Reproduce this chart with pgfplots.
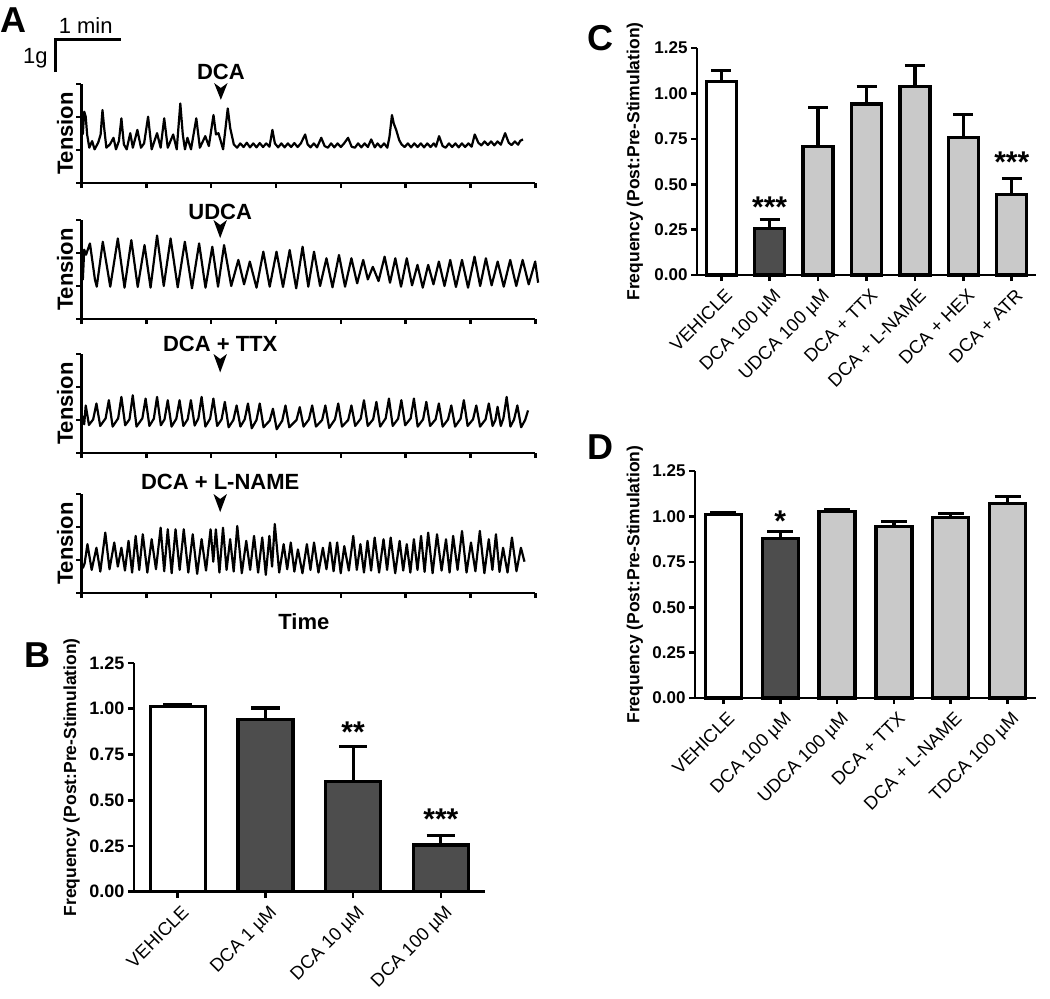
\documentclass[border=0pt]{standalone}
\usepackage{fontspec}
\setmainfont{Liberation Sans}
\usepackage{pgfplots}
\pgfplotsset{compat=1.18}

\definecolor{barDark}{HTML}{4D4D4D}
\definecolor{barLight}{HTML}{C9C9C9}
\newcommand{\fs}[1]{\fontsize{#1pt}{#1pt}\selectfont}

\tikzset{starlbl/.style={font=\fs{30}\bfseries, anchor=north, inner sep=0pt}}

\pgfplotsset{
  trace/.style={
    scale only axis, width=454pt, height=99pt,
    axis lines=left, axis line style={-, line width=2.6pt},
    xmin=0, xmax=420, ymin=0, ymax=3,
    xtick={0,60,...,420}, ytick={0,1,2,3},
    xticklabels={}, yticklabels={},
    tick align=outside, major tick length=5pt,
    every tick/.style={black, line width=2.6pt},
    clip=false,
    ylabel={\fs{22}\bfseries Tension},
    ylabel style={at={(axis description cs:-0.018,0.5)}, anchor=south, inner sep=0pt},
  },
  tr/.style={black, line width=2.2pt, no marks, line join=round},
  bars/.style={
    scale only axis, anchor=south west,
    axis lines=left, axis line style={-, line width=2.6pt},
    ymin=0, ymax=1.25, ytick={0,0.25,0.5,0.75,1,1.25},
    tick align=outside, major tick length=6pt,
    every tick/.style={black, line width=2.6pt},
    ybar, clip=false,
    /pgf/number format/fixed, /pgf/number format/fixed zerofill,
    /pgf/number format/precision=2, /pgf/number format/assume math mode=true,
    yticklabel style={font=\fs{17}\bfseries},
    xticklabel style={font=\fs{18.4}, xshift=3pt, yshift=-5pt, rotate=45, anchor=north east, inner sep=1pt},
    ylabel={\fs{17.5}\bfseries Frequency (Post:Pre-Stimulation)},
    ylabel style={anchor=south, inner sep=0pt},
  },
  barw/.style={draw=black, line width=3.2pt, bar shift=0pt},
  errs/.style={error bars/.cd, y dir=plus, y explicit,
    error bar style={line width=3.2pt, black},
    error mark options={rotate=90, mark size=#1, line width=3.2pt, black}},
}

\begin{document}
\begin{tikzpicture}[x=1pt,y=1pt]
\path[use as bounding box] (0,0) rectangle (1050,-999);

% ---------- panel A: traces ----------
\begin{axis}[trace, at={(81.4pt,-183pt)}, anchor=south west]
\addplot[tr] coordinates {
(1.3,1.47) (2.6,2.16) (4.0,2.01) (5.3,1.47) (7.3,1.07) (9.9,1.27) (12.2,1.02) (15.5,1.22)
(17.8,1.47) (19.5,2.21) (21.1,1.66) (23.1,1.07) (26.4,1.17) (29.7,1.37) (32.0,1.02) (34.7,1.27)
(37.0,1.96) (39.3,1.17) (41.9,1.02) (45.2,1.51) (47.6,1.07) (51.8,1.61) (55.1,1.07) (58,1.2)
(61.7,2.01) (65.0,1.02) (70.0,1.51) (73.3,1.07) (76.6,1.96) (79.9,1.07) (84.9,1.47) (88.2,1.02)
(91.5,2.41) (93.8,1.47) (95.8,1.02) (98.1,1.37) (101.4,1.02) (106.3,1.96) (109.6,1.07) (114.6,1.42)
(117.9,1.12) (122.2,2.06) (124.5,1.47) (126.8,1.51) (131.1,1.02) (135.4,2.26) (137.7,1.66) (141.0,1.17)
(144,1.07) (147,1.2) (150,1.09) (153,1.22) (156,1.08) (159,1.2) (162,1.08) (165,1.21) (168,1.09)
(171,1.2) (174,1.1) (176.7,1.61) (179,1.2) (182,1.08) (185,1.2) (188,1.08) (191,1.2) (194,1.09)
(197,1.21) (200,1.09) (203,1.2) (207,1.47) (209.3,1.17) (212,1.08) (215,1.2) (218,1.08) (221.9,1.37)
(225,1.12) (228,1.07) (231,1.2) (234,1.08) (237,1.2) (240,1.09) (243,1.2) (246.7,1.37) (250,1.1)
(253,1.07) (256,1.2) (259,1.08) (262,1.2) (265,1.09) (268.1,1.32) (271.4,1.08) (274,1.2) (277,1.08)
(280,1.2) (283,1.07) (285,1.4) (287.3,2.06) (289,1.8) (291.2,1.61) (294,1.3) (296.2,1.17) (299,1.09)
(302,1.2) (305,1.08) (308,1.2) (311,1.09) (314,1.2) (317,1.08) (320,1.2) (323,1.09) (326,1.2)
(328,1.1) (330.9,1.42) (334.2,1.12) (337,1.07) (340,1.2) (343,1.09) (346,1.2) (349,1.08) (352,1.2)
(355,1.09) (358,1.2) (361,1.1) (363.9,1.47) (367.2,1.22) (370,1.14) (373,1.26) (376,1.15) (379,1.26)
(382,1.14) (385,1.26) (388,1.16) (392,1.51) (395.3,1.22) (398,1.15) (401,1.26) (404,1.16) (406,1.28)
(408.5,1.32)
};
\node[font=\fs{22}\bfseries] at (axis cs:129,3.36) {DCA};
\fill (axis cs:122.8,3.03) -- (axis cs:129,2.52) -- (axis cs:135.2,3.03) -- (axis cs:129,2.88) -- cycle;
\draw[line width=3pt] (axis cs:-23.8,3.36) -- (axis cs:-23.8,4.36) -- (axis cs:36.6,4.36);
\node[font=\fs{22}] at (axis cs:4,4.77) {1 min};
\node[font=\fs{22}] at (axis cs:-42.6,3.79) {1g};
\end{axis}

\begin{axis}[trace, at={(81.4pt,-319pt)}, anchor=south west]
\addplot[tr] coordinates {
(1.3,1.18) (2.6,2.10) (4.3,1.95) (7.9,2.29) (12.5,1.20) (14.2,0.98) (19.8,2.34) (26.7,0.98)
(33.7,2.44) (39.9,0.95) (46.2,2.39) (52.1,0.97) (58.4,2.24) (64.0,0.95) (70.0,2.53) (76.2,1.00)
(82.5,2.44) (89.1,0.96) (95.7,2.34) (102.3,0.93) (108.9,2.29) (114.8,0.95) (121.1,2.19) (126.4,0.98)
(132.0,2.24) (138.6,1.00) (145.2,1.79) (150.5,1.05) (155.8,1.74) (162.0,0.95) (168.3,2.04) (174.2,0.98)
(180.5,2.04) (186.5,0.97) (192.7,2.09) (198.7,0.93) (204.6,2.19) (209.9,0.98) (215.2,2.04) (220.8,1.00)
(226.7,1.84) (232.3,0.96) (238.3,1.94) (243.9,0.98) (249.8,1.84) (255.1,1.08) (260.7,1.79) (265.0,1.20)
(269.6,1.58) (274.9,1.15) (280.5,1.89) (285.5,1.10) (290.4,1.84) (295.7,0.98) (301.0,1.84) (305.9,1.02)
(310.9,1.64) (315.8,0.95) (320.8,1.64) (325.7,1.05) (330.7,1.74) (335.9,1.00) (341.2,1.79) (346.5,0.97)
(352.1,1.79) (357.7,0.95) (363.7,1.89) (368.9,1.00) (374.2,1.84) (379.5,1.02) (385.1,1.74) (390.7,0.98)
(396.7,1.79) (402.3,1.00) (408.2,1.79) (413.8,1.05) (419.8,1.74) (422.5,1.10)
};
\node[font=\fs{22}\bfseries] at (axis cs:128.4,3.24) {UDCA};
\fill (axis cs:122.2,3.0) -- (axis cs:128.4,2.45) -- (axis cs:134.6,3.0) -- (axis cs:128.4,2.85) -- cycle;
\end{axis}

\begin{axis}[trace, at={(81.4pt,-453pt)}, anchor=south west]
\addplot[tr] coordinates {
(1.3,1.13) (2.6,0.87) (4.0,1.44) (7.0,0.85) (10.9,1.02) (13.9,1.50) (17.4,0.82) (22.4,1.05)
(25.4,1.60) (28.9,0.80) (34.0,1.05) (37.0,1.70) (40.5,0.84) (44.5,1.02) (47.5,1.75) (51.0,0.80)
(56.4,1.05) (59.4,1.65) (62.9,0.82) (67.0,1.04) (70.0,1.70) (73.5,0.84) (76.9,1.02) (79.9,1.60)
(83.4,0.80) (87.8,1.04) (90.8,1.60) (94.3,0.82) (98.3,1.02) (101.3,1.60) (104.8,0.83) (108.2,1.05)
(111.2,1.70) (114.7,0.80) (119.1,1.04) (122.1,1.65) (125.6,0.82) (129.7,1.02) (132.7,1.55) (136.2,0.78)
(140.6,1.00) (143.6,1.44) (147.1,0.80) (151.1,1.02) (154.1,1.50) (157.6,0.75) (162.0,1.00) (165.0,1.50)
(168.5,0.78) (174.2,0.98) (177.2,1.34) (180.7,0.72) (185.8,0.98) (188.8,1.44) (192.3,0.78) (199.0,1.00)
(202.0,1.39) (205.5,0.80) (210.5,1.02) (213.5,1.44) (217.0,0.80) (222.7,1.00) (225.7,1.44) (229.2,0.76)
(234.6,1.02) (237.6,1.50) (241.1,0.80) (246.8,1.00) (249.8,1.44) (253.3,0.82) (258.4,1.04) (261.4,1.60)
(264.9,0.82) (269.9,1.02) (272.9,1.55) (276.4,0.80) (281.5,1.05) (284.5,1.65) (288.0,0.82) (293.0,1.04)
(296.0,1.60) (299.5,0.84) (304.6,1.05) (307.6,1.65) (311.1,0.80) (316.1,1.02) (319.1,1.55) (322.6,0.82)
(327.7,1.02) (330.7,1.50) (334.2,0.80) (339.2,1.02) (342.2,1.44) (345.7,0.80) (350.8,1.04) (353.8,1.60)
(357.3,0.82) (362.3,1.02) (365.3,1.44) (368.8,0.80) (373.9,1.02) (376.9,1.50) (380.4,0.82) (383.0,1.00)
(385.0,1.40) (388.0,0.82) (390.4,1.05) (393.4,1.70) (396.9,0.80) (400.3,1.02) (403.3,1.44) (406.8,0.78)
(410.5,1.00) (413.2,1.29)
};
\node[font=\fs{22}\bfseries] at (axis cs:128.4,3.31) {DCA + TTX};
\fill (axis cs:122.2,3.0) -- (axis cs:128.4,2.44) -- (axis cs:134.6,3.0) -- (axis cs:128.4,2.85) -- cycle;
\end{axis}

\begin{axis}[trace, at={(81.4pt,-593pt)}, anchor=south west,
  xlabel={\fs{22}\bfseries Time},
  xlabel style={at={(axis description cs:0.49,0)}, anchor=north, yshift=-17pt}]
\addplot[tr] coordinates {
(1.3,0.75) (3.0,0.9) (5.6,1.48) (9.5,0.70) (13.9,1.37) (17.5,0.65) (22.1,1.83) (26.0,0.72)
(30.4,1.53) (33.7,0.80) (37.0,1.37) (40.3,0.68) (43.6,1.58) (46.9,0.62) (50.2,1.73) (53.5,0.70)
(56.8,1.78) (61.0,0.62) (65.0,1.63) (69.0,0.72) (73.3,1.98) (76.6,0.66) (79.9,1.93) (83.5,0.60)
(87.1,1.93) (90.9,0.70) (94.7,1.93) (98.9,0.62) (103.0,1.78) (107.1,0.58) (111.2,1.63) (115.3,0.68)
(119.5,1.93) (122.0,0.95) (124.4,1.93) (127.7,0.62) (131.0,1.98) (134.3,0.70) (137.6,1.63) (140.9,0.65)
(144.2,2.03) (148.4,0.60) (152.5,1.58) (156.1,0.70) (159.7,1.73) (163.5,0.62) (167.3,1.68) (170.6,0.55)
(173.9,1.73) (176.4,0.80) (178.9,2.09) (183.0,0.62) (187.1,1.48) (190.4,0.72) (193.7,1.53) (197.0,0.65)
(200.3,1.32) (204.5,0.60) (208.6,1.48) (211.9,0.70) (215.2,1.53) (219.3,0.62) (223.4,1.37) (226.7,0.72)
(230.0,1.53) (233.3,0.66) (236.6,1.53) (239.9,0.60) (243.2,1.42) (247.4,0.68) (251.5,1.73) (254.8,0.70)
(258.1,1.48) (261.4,0.62) (264.7,1.58) (268.0,0.68) (271.3,1.68) (275.4,0.62) (279.5,1.63) (282.8,0.70)
(286.1,1.68) (290.3,0.60) (294.4,1.58) (297.7,0.68) (301.0,1.48) (304.3,0.62) (307.6,1.63) (310.9,0.70)
(314.2,1.73) (317.5,0.64) (320.8,1.83) (324.9,0.60) (329.0,1.78) (333.2,0.68) (337.3,1.63) (340.6,0.62)
(343.9,1.73) (348.0,0.70) (352.1,1.88) (356.3,0.62) (360.4,1.53) (364.5,0.66) (368.6,1.88) (372.8,0.60)
(376.9,1.63) (380.2,0.70) (383.5,1.78) (386.8,0.64) (390.1,1.37) (394.2,0.62) (398.3,1.68) (402.5,0.66)
(406.6,1.37) (409.9,0.95)
};
\node[font=\fs{22}\bfseries] at (axis cs:128.4,3.37) {DCA + L-NAME};
\fill (axis cs:122.2,3.0) -- (axis cs:128.4,2.45) -- (axis cs:134.6,3.0) -- (axis cs:128.4,2.85) -- cycle;
\end{axis}

% ---------- panel B ----------
\begin{axis}[bars, at={(133.9pt,-891.7pt)}, width=350.8pt, height=228.7pt,
  xmin=-0.5, xmax=3.5, xtick={0,1,2,3}, bar width=55pt,
  yticklabel style={font=\fs{18}\bfseries},
  xticklabels={VEHICLE, DCA 1 µM, DCA 10 µM, DCA 100 µM},
  ylabel style={at={(axis description cs:-0.154,0.5)}}]
\addplot[barw, fill=white, errs=14.3pt] coordinates {(0,1.013) +- (0,0.010)};
\addplot[barw, fill=barDark, errs=14.3pt] coordinates {(1,0.943) +- (0,0.061) (2,0.602) +- (0,0.192) (3,0.255) +- (0,0.052)};
\node[starlbl] at (axis cs:2,0.93) {**};
\node[starlbl] at (axis cs:3,0.456) {***};
\end{axis}

% ---------- panel C ----------
\begin{axis}[bars, at={(697pt,-275pt)}, width=339pt, height=227pt,
  xmin=-0.5, xmax=6.5, xtick={0,1,2,3,4,5,6}, bar width=30pt,
  xticklabels={VEHICLE, DCA 100 µM, UDCA 100 µM, DCA + TTX, DCA + L-NAME, DCA + HEX, DCA + ATR},
  ylabel style={at={(axis description cs:-0.159,0.5)}}]
\addplot[barw, fill=white, errs=10pt] coordinates {(0,1.067) +- (0,0.060)};
\addplot[barw, fill=barDark, errs=10pt] coordinates {(1,0.255) +- (0,0.051)};
\addplot[barw, fill=barLight, errs=10pt] coordinates {(2,0.709) +- (0,0.213) (3,0.942) +- (0,0.097) (4,1.037) +- (0,0.118) (5,0.759) +- (0,0.126) (6,0.442) +- (0,0.090)};
\node[starlbl] at (axis cs:1,0.434) {***};
\node[starlbl] at (axis cs:6,0.678) {***};
\end{axis}

% ---------- panel D ----------
\begin{axis}[bars, at={(695pt,-698pt)}, width=341pt, height=227pt,
  xmin=-0.5, xmax=5.5, xtick={0,1,2,3,4,5}, bar width=36pt,
  xticklabels={VEHICLE, DCA 100 µM, UDCA 100 µM, DCA + TTX, DCA + L-NAME, TDCA 100 µM},
  ylabel style={at={(axis description cs:-0.152,0.5)}}]
\addplot[barw, fill=white, errs=13pt] coordinates {(0,1.011) +- (0,0.011)};
\addplot[barw, fill=barDark, errs=13pt] coordinates {(1,0.879) +- (0,0.036)};
\addplot[barw, fill=barLight, errs=13pt] coordinates {(2,1.026) +- (0,0.013) (3,0.945) +- (0,0.029) (4,0.996) +- (0,0.021) (5,1.072) +- (0,0.036)};
\node[starlbl] at (axis cs:1,1.03) {*};
\end{axis}

% panel letters
\node[font=\fs{36}\bfseries] at (13.4,-20) {A};
\node[font=\fs{36}\bfseries] at (37.5,-655) {B};
\node[font=\fs{36}\bfseries] at (600,-38) {C};
\node[font=\fs{36}\bfseries] at (600,-447) {D};
\end{tikzpicture}
\end{document}
